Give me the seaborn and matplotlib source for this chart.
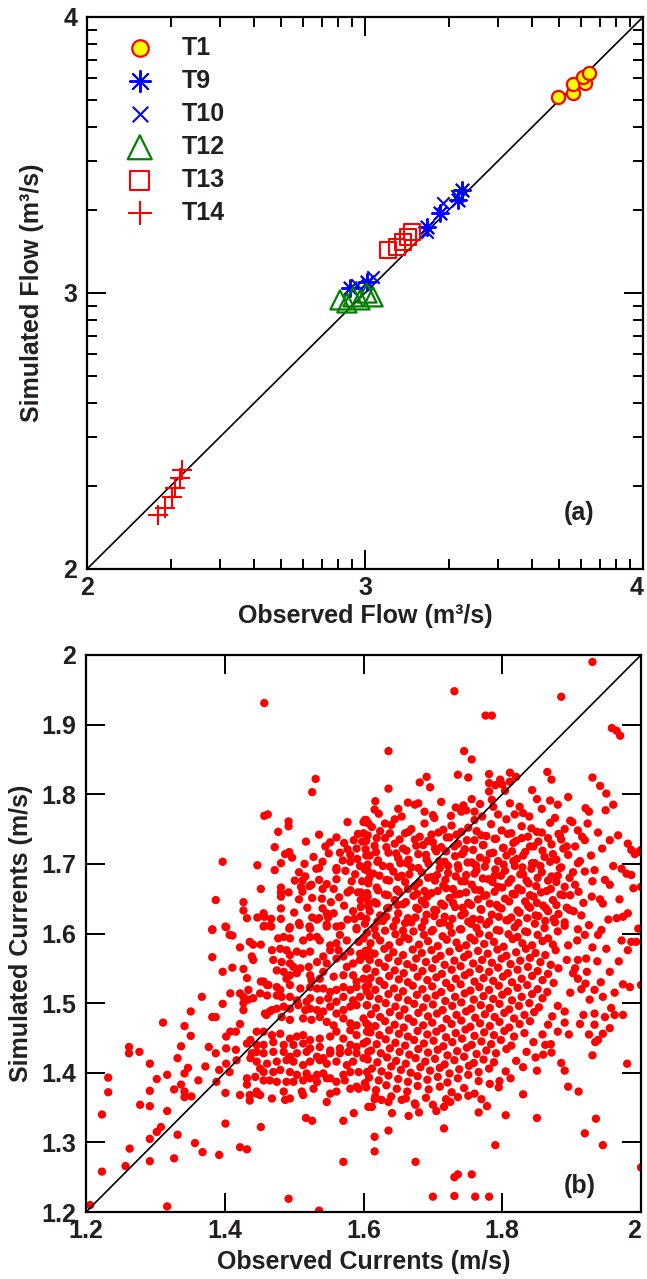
import matplotlib
matplotlib.use("Agg")
import matplotlib.pyplot as plt
import seaborn as sns
import numpy as np
import pandas as pd

# ---------------- Panel (a): flows (axis units = labelled log exponents) -------------
t1_obs = [3.694, 3.748, 3.748, 3.791, 3.784, 3.806]
t1_sim = [3.710, 3.725, 3.757, 3.761, 3.783, 3.797]
t9_obs = [3.349, 3.335, 3.270, 3.223, 3.007, 2.946]
t9_sim = [3.373, 3.337, 3.290, 3.239, 3.040, 3.018]
t10_obs = [3.281, 3.223, 3.029, 2.971, 3.330]
t10_sim = [3.326, 3.221, 3.058, 3.029, 3.350]
t12_obs = [2.910, 2.957, 3.007, 3.029, 2.935, 2.982]
t12_sim = [2.975, 2.986, 3.000, 2.986, 2.964, 2.975]
t13_obs = [3.083, 3.115, 3.137, 3.155, 3.169]
t13_sim = [3.156, 3.167, 3.185, 3.203, 3.221]
t14_obs = [2.255, 2.281, 2.306, 2.317, 2.335, 2.342]
t14_sim = [2.196, 2.221, 2.261, 2.293, 2.330, 2.359]

a_ticks = [2, 3, 4]
a_ticklabels = ["2", "3", "4"]

# ---------------- Panel (b): currents, (observed, simulated) in mm/s ----------------
b_lower_left = [
    (1206,1210),(1317,1208),(1492,1219),(1536,1202),(1223,1258),(1257,1266),(1292,1273),(1327,1277),
    (1263,1291),(1357,1299),(1368,1286),(1392,1282),(1422,1293),(1432,1290),(1292,1305),(1302,1315),
    (1308,1322),(1332,1311),(1401,1327),(1452,1322),(1571,1272),(1517,1335),(1526,1331),(1571,1331),
    (1586,1342),(1223,1340),(1278,1354),(1292,1352),(1317,1345),(1232,1393),(1232,1372),(1262,1437),
    (1262,1428),(1277,1430),(1292,1413),(1302,1391),(1292,1374),(1317,1397),(1327,1376),(1332,1421),
    (1311,1472),(1337,1438),(1342,1467),(1351,1453),(1351,1488),(1347,1407),(1342,1399),(1337,1383),
    (1342,1373),(1342,1365),(1352,1366),(1362,1389),(1372,1409),(1377,1437),(1387,1428),(1367,1509),
    (1382,1480),(1387,1480),(1397,1499),(1382,1566),(1382,1605),(1402,1609),(1397,1545),(1392,1404),
    (1388,1387),(1402,1413),(1407,1401),(1401,1371),(1411,1551),(1407,1598),(1411,1597),(1422,1580),
    (1427,1549),(1432,1536),(1427,1509),(1427,1500),(1427,1490),(1408,1514),(1422,1514),(1422,1470),
    (1402,1452),(1408,1459),(1416,1459),(1402,1435),(1416,1433),(1417,1418),(1432,1442),(1432,1392),
    (1432,1383),(1422,1368),(1436,1368),(1436,1360),(1451,1368),(1446,1373),(1468,1363),(1436,1588),
    (1441,1584),(1452,1584),(1439,1567),(1441,1562),(1434,1519),(1434,1505),(1441,1507),(1452,1531),
    (1463,1526),(1460,1483),(1468,1490),
]
b_core_left = [
    (1456,1610),(1465,1611),(1493,1607),(1508,1612),(1523,1607),(1547,1610),(1561,1610),(1590,1606),
    (1477,1593),(1485,1595),(1494,1593),(1513,1590),(1523,1595),(1533,1595),(1537,1590),(1552,1583),
    (1561,1586),(1566,1598),(1576,1590),(1593,1588),(1600,1593),
    (1468,1576),(1480,1578),(1489,1576),(1494,1569),(1504,1574),(1513,1571),(1523,1574),(1542,1567),
    (1552,1576),(1564,1576),(1571,1567),(1581,1574),(1595,1571),(1607,1576),
    (1470,1562),(1482,1559),(1494,1557),(1499,1552),(1509,1550),(1521,1552),(1533,1559),(1547,1557),
    (1561,1564),(1576,1552),(1585,1557),(1595,1562),(1605,1567),
    (1475,1547),(1485,1545),(1489,1535),(1494,1540),(1504,1543),(1523,1540),(1525,1533),(1537,1535),
    (1542,1545),(1557,1538),(1571,1540),(1585,1540),(1590,1531),(1605,1550),(1600,1535),
    (1456,1531),(1461,1526),(1475,1523),(1480,1519),(1494,1526),(1509,1521),(1523,1523),(1533,1521),
    (1542,1521),(1552,1516),(1561,1519),(1571,1523),(1581,1519),(1590,1523),(1607,1526),
    (1451,1514),(1461,1511),(1475,1511),(1482,1509),(1494,1509),(1504,1504),(1518,1502),(1523,1507),
    (1537,1504),(1549,1507),(1561,1502),(1571,1509),(1585,1504),(1595,1509),(1605,1516),
    (1458,1485),(1465,1488),(1475,1492),(1485,1495),(1494,1492),(1506,1497),(1516,1490),(1523,1492),
    (1533,1490),(1542,1488),(1552,1495),(1561,1485),(1571,1490),(1581,1495),(1590,1497),(1605,1497),
    (1482,1480),(1494,1476),(1513,1478),(1525,1476),(1537,1480),(1547,1473),(1557,1468),(1571,1478),
    (1581,1471),(1590,1468),(1600,1478),(1607,1468),
    (1446,1459),(1456,1459),(1468,1454),(1480,1456),(1494,1449),(1504,1452),(1513,1454),(1523,1447),
    (1537,1449),(1552,1452),(1561,1459),(1571,1449),(1581,1461),(1590,1454),(1605,1459),
    (1437,1447),(1446,1440),(1456,1440),(1470,1444),(1485,1440),(1499,1440),(1513,1442),(1523,1435),
    (1537,1437),(1552,1432),(1566,1435),(1581,1440),(1590,1437),(1600,1442),
    (1439,1428),(1446,1430),(1456,1428),(1470,1430),(1485,1430),(1494,1423),(1504,1428),(1518,1430),
    (1533,1423),(1542,1421),(1552,1428),(1566,1428),(1578,1430),(1590,1428),(1607,1430),
    (1437,1421),(1446,1416),(1461,1413),(1475,1416),(1489,1418),(1499,1416),(1513,1411),(1523,1416),
    (1537,1418),(1547,1413),(1561,1416),(1576,1411),(1585,1416),(1600,1421),
    (1451,1406),(1456,1401),(1470,1401),(1480,1404),(1494,1401),(1504,1397),(1518,1399),(1533,1397),
    (1542,1399),(1552,1392),(1571,1397),(1581,1401),(1593,1401),(1605,1401),
    (1444,1394),(1456,1389),(1465,1389),(1475,1387),(1489,1387),(1499,1387),(1513,1389),(1523,1392),
    (1533,1387),(1547,1392),(1561,1387),(1573,1389),(1590,1380),(1602,1385),
    (1446,1370),(1485,1373),(1487,1361),(1494,1363),(1511,1373),(1513,1368),(1528,1377),(1547,1358),
    (1552,1370),(1561,1373),(1581,1377),(1593,1377),(1607,1351),
]
b_upper_left = [
    (1457,1931),(1531,1822),(1526,1803),(1457,1769),(1462,1771),(1492,1761),(1492,1754),(1477,1746),
    (1577,1760),(1536,1742),(1517,1732),(1472,1724),(1552,1731),(1561,1738),(1572,1730),(1487,1714),
    (1493,1717),(1497,1709),(1397,1703),(1447,1698),(1481,1701),(1472,1691),(1507,1688),(1532,1693),
    (1536,1694),(1541,1703),(1561,1694),(1561,1691),(1566,1716),(1577,1721),(1581,1713),(1581,1703),
    (1591,1707),(1586,1734),(1600,1760),(1604,1763),(1600,1744),(1592,1743),(1598,1732),(1501,1676),
    (1512,1676),(1516,1682),(1525,1670),(1536,1677),(1547,1671),(1561,1678),(1452,1664),(1481,1666),
    (1481,1659),(1481,1653),(1492,1659),(1507,1649),(1510,1667),(1512,1660),(1522,1668),(1526,1651),
    (1541,1664),(1557,1664),(1577,1659),(1581,1662),(1592,1659),(1596,1659),(1596,1648),(1606,1653),
    (1607,1643),(1596,1638),(1387,1648),(1427,1645),(1427,1633),(1432,1622),(1447,1623),(1456,1629),
    (1457,1624),(1467,1621),(1481,1636),(1481,1621),(1494,1609),(1507,1615),(1522,1610),(1526,1623),
    (1533,1620),(1536,1622),(1541,1636),(1547,1629),(1549,1623),(1557,1629),(1547,1613),(1577,1620),
    (1587,1621),(1596,1625),(1590,1608),(1382,1606),(1401,1610),(1457,1611),(1467,1610),
    (1565,1652),(1572,1640),(1585,1632),(1553,1645),(1540,1650),(1519,1637),(1500,1630),(1568,1611),
    (1588,1685),(1574,1690),(1595,1697),(1583,1675),(1570,1705),(1550,1715),(1528,1710),(1515,1700),
    (1545,1725),(1590,1722),(1604,1712),(1598,1675),(1606,1690),
]
b_upper_right = [
    (1930,1990),(1731,1948),(1885,1940),(1776,1913),(1785,1913),(1958,1895),(1965,1891),(1970,1884),
    (1636,1862),(1745,1862),(1756,1850),(1736,1828),(1751,1824),(1681,1817),(1691,1825),(1696,1810),
    (1636,1808),(1781,1829),(1781,1816),(1781,1804),(1790,1813),(1797,1821),(1800,1814),(1804,1805),
    (1811,1831),(1820,1825),(1811,1818),(1865,1832),(1871,1821),(1930,1824),(1941,1812),(1950,1801),
    (1895,1796),(1960,1785),(1949,1777),(1920,1780),(1925,1775),(1850,1793),(1869,1791),(1811,1787),
    (1825,1782),(1818,1771),(1830,1773),(1794,1771),(1787,1782),(1785,1792),(1756,1793),(1744,1784),
    (1741,1775),(1748,1777),(1760,1775),(1760,1763),(1726,1769),(1664,1788),(1674,1785),(1679,1787),
    (1616,1778),(1645,1764),(1602,1763),(1607,1758),(1631,1758),
    (1955,1734),(1967,1741),(1981,1729),(1986,1720),(1996,1717),(2000,1720),(1991,1714),(1960,1697),
    (1972,1693),(1979,1686),(1986,1684),(1989,1665),(2000,1667),(1969,1649),(1965,1622),(1974,1624),
    (1981,1629),(1941,1649),(1945,1643),(1948,1677),(1955,1670),(1909,1701),(1919,1689),(1933,1691),
    (1929,1653),(1909,1748),(1938,1745),(1915,1739),(1919,1734),(1912,1704),(1905,1670),(1917,1644),
    (1914,1626),(1909,1606),
]
b_core_edges = [
    (1622,1772),(1655,1768),(1688,1775),(1702,1766),(1733,1781),(1771,1768),(1806,1764),(1839,1768),
    (1857,1779),(1876,1766),(1898,1762),(1650,1779),(1712,1789),(1768,1786),(1843,1806),(1880,1785),
    (1700,1770),(1617,1790),
    (1893,1725),(1902,1688),(1898,1655),(1903,1632),(1895,1583),(1893,1562),(1898,1515),(1890,1488),
    (1896,1455),(1908,1590),(1914,1520),(1926,1505),(1922,1545),(1937,1560),(1930,1580),(1912,1470),
    (1925,1455),(1942,1530),(1955,1545),(1962,1515),(1968,1560),(1953,1620),(1925,1612),(1938,1598),
    (1905,1725),(1928,1712),(1944,1722),(1901,1760),(1923,1758),(1930,1675),(1910,1660),
    (1617,1366),(1655,1361),(1690,1364),(1725,1358),(1760,1370),(1782,1384),(1812,1392),(1830,1408),
    (1848,1422),(1862,1440),(1778,1352),(1705,1345),(1641,1342),
]
b_core_upper = [
    (1612,1753),(1624,1747),(1640,1756),(1660,1744),(1669,1750),(1688,1758),(1698,1742),(1715,1749),
    (1727,1755),(1741,1746),(1751,1752),(1770,1741),(1784,1757),(1799,1748),(1813,1744),(1828,1754),
    (1842,1751),(1857,1745),(1869,1759),(1881,1743),(1890,1750),
    (1606,1741),(1619,1737),(1638,1744),(1652,1735),(1665,1746),(1681,1739),(1693,1733),(1708,1745),
    (1720,1738),(1734,1742),(1749,1734),(1763,1747),(1777,1740),(1791,1736),(1808,1743),(1820,1733),
    (1837,1739),(1850,1746),(1866,1737),(1883,1741),
    (1604,1733),(1616,1726),(1631,1737),(1645,1729),(1657,1722),(1674,1735),(1686,1727),(1700,1731),
    (1712,1724),(1724,1738),(1736,1729),(1746,1721),(1760,1734),(1772,1727),(1789,1736),(1801,1723),
    (1816,1730),(1828,1737),(1840,1725),(1852,1732),(1871,1728),(1885,1735),
    (1603,1721),(1618,1717),(1633,1724),(1647,1715),(1662,1719),(1676,1726),(1690,1713),(1703,1722),
    (1719,1718),(1731,1725),(1742,1714),(1758,1720),(1773,1727),(1787,1716),(1802,1723),(1814,1718),
    (1830,1712),(1845,1725),(1858,1719),(1873,1714),(1888,1722),
    (1609,1712),(1621,1705),(1636,1716),(1650,1708),(1662,1701),(1679,1714),(1691,1706),(1705,1718),
    (1717,1703),(1732,1711),(1744,1716),(1756,1702),(1768,1709),(1782,1715),(1794,1704),(1806,1712),
    (1821,1707),(1833,1717),(1847,1701),(1861,1710),(1878,1706),(1895,1713),
    (1606,1699),(1620,1703),(1638,1696),(1653,1701),(1665,1706),(1679,1694),(1694,1700),(1709,1704),
    (1722,1697),(1737,1693),(1750,1702),(1762,1698),(1777,1705),(1790,1692),(1802,1699),(1816,1704),
    (1829,1695),(1843,1701),(1855,1697),(1869,1703),(1883,1694),
    (1602,1692),(1614,1686),(1628,1697),(1643,1689),(1655,1683),(1669,1695),(1684,1688),(1698,1681),
    (1710,1694),(1722,1687),(1736,1698),(1748,1684),(1763,1691),(1775,1696),(1789,1683),(1804,1690),
    (1818,1697),(1830,1685),(1842,1693),(1857,1688),(1871,1682),(1885,1695),
    (1608,1679),(1623,1683),(1637,1676),(1650,1681),(1666,1685),(1680,1673),(1693,1680),(1706,1684),
    (1718,1677),(1733,1682),(1746,1675),(1760,1686),(1772,1679),(1786,1674),(1798,1683),(1813,1678),
    (1826,1685),(1838,1672),(1851,1680),(1866,1676),(1880,1683),(1897,1680),
    (1607,1672),(1619,1666),(1633,1677),(1648,1663),(1660,1674),(1674,1668),(1688,1661),(1703,1676),
    (1715,1669),(1729,1664),(1741,1675),(1756,1670),(1768,1662),(1780,1678),(1794,1667),(1809,1673),
    (1823,1665),(1835,1676),(1849,1668),(1864,1661),(1878,1674),(1890,1667),
    (1605,1658),(1621,1662),(1635,1655),(1651,1660),(1664,1664),(1677,1657),(1692,1653),(1707,1661),
    (1719,1665),(1733,1656),(1748,1659),(1761,1663),(1774,1654),(1789,1660),(1800,1666),(1815,1657),
    (1828,1662),(1840,1655),(1856,1659),(1870,1664),(1884,1656),
    (1604,1652),(1616,1645),(1631,1656),(1645,1648),(1657,1642),(1672,1654),(1684,1647),(1698,1658),
    (1712,1643),(1724,1651),(1739,1657),(1751,1644),(1765,1649),(1777,1655),(1792,1641),(1804,1650),
    (1818,1656),(1833,1646),(1845,1653),(1859,1640),(1873,1648),(1888,1655),
    (1607,1639),(1619,1643),(1634,1636),(1649,1641),(1661,1645),(1676,1637),(1689,1642),(1702,1634),
    (1716,1640),(1729,1644),(1743,1637),(1755,1641),(1769,1635),(1782,1643),(1795,1638),(1810,1646),
    (1822,1633),(1837,1640),(1850,1644),(1863,1636),(1878,1641),(1893,1637),
    (1609,1632),(1624,1626),(1636,1637),(1650,1629),(1664,1622),(1679,1635),(1691,1627),(1705,1633),
    (1717,1624),(1732,1638),(1746,1629),(1758,1621),(1770,1634),(1785,1627),(1799,1636),(1813,1623),
    (1825,1630),(1840,1637),(1852,1625),(1866,1632),(1881,1628),(1897,1634),
    (1604,1621),(1620,1617),(1633,1624),(1647,1619),(1660,1615),(1675,1623),(1688,1618),(1702,1625),
    (1715,1616),(1728,1621),(1741,1626),(1755,1614),(1768,1620),(1781,1617),(1795,1624),(1808,1619),
    (1823,1615),(1836,1622),(1848,1626),(1862,1618),(1874,1621),(1890,1616),
    (1602,1614),(1616,1607),(1628,1618),(1643,1610),(1657,1604),(1669,1616),(1684,1609),(1698,1603),
    (1710,1615),(1724,1611),(1739,1606),(1751,1617),(1763,1608),(1777,1613),(1792,1605),(1806,1619),
    (1818,1609),(1833,1603),(1847,1614),(1861,1608),(1876,1616),(1890,1611),
]
b_lower_right = [
    (1700,1222),(1731,1223),(1761,1222),(1781,1222),(1731,1250),(1736,1254),(1756,1254),(1675,1272),
    (1616,1287),(1616,1308),(1636,1317),(1716,1320),(1790,1296),(1919,1313),(1945,1296),(2000,1264),
    (1850,1335),(1935,1334),(1805,1339),(1766,1343),(1665,1338),(1680,1343),(1675,1354),(1612,1351),
    (1616,1362),(1626,1361),(1636,1358),(1640,1366),(1661,1363),(1674,1356),(1700,1354),(1716,1351),
    (1719,1362),(1736,1365),(1751,1367),(1770,1362),(1795,1379),(1796,1388),(1830,1369),(1895,1380),
    (1910,1373),(1850,1403),(1890,1403),(1885,1414),(1859,1426),(1871,1429),(1930,1425),(1980,1413),
    (1984,1523),(2000,1526),(1974,1527),(1934,1444),(1938,1447),(1945,1456),(1955,1464),(1933,1469),
    (1962,1483),(1974,1483),(1948,1480),(1957,1493),(1945,1509),(1933,1519),(1920,1528),(1933,1485),
    (1917,1483),(1950,1578),(1972,1590),(1981,1576),(1986,1588),(1993,1588),(1996,1607),(1943,1605),
    (1919,1598),(1921,1564),(1909,1562),(1905,1550),(1909,1535),(1902,1543),
]
b_core_lower = [
    (1605,1601),(1618,1597),(1631,1604),(1646,1599),(1659,1595),(1672,1603),(1687,1598),(1700,1605),
    (1714,1596),(1727,1601),(1741,1606),(1754,1594),(1767,1600),(1781,1597),(1796,1604),(1809,1599),
    (1822,1595),(1836,1602),(1851,1598),(1866,1593),(1880,1603),
    (1610,1586),(1624,1590),(1637,1583),(1652,1588),(1665,1592),(1680,1584),(1693,1589),(1707,1582),
    (1720,1591),(1734,1587),(1748,1583),(1760,1590),(1774,1585),(1788,1588),(1802,1581),(1815,1592),
    (1829,1586),(1843,1583),(1858,1589),(1873,1584),
    (1603,1575),(1616,1571),(1630,1578),(1643,1573),(1657,1569),(1671,1577),(1684,1572),(1698,1576),
    (1711,1568),(1724,1574),(1738,1579),(1751,1570),(1765,1575),(1779,1571),(1793,1577),(1806,1568),
    (1820,1573),(1834,1578),(1848,1572),(1862,1569),(1877,1576),
    (1609,1562),(1622,1558),(1636,1565),(1650,1560),(1663,1556),(1676,1564),(1690,1559),(1704,1563),
    (1717,1555),(1731,1561),(1745,1566),(1758,1557),(1771,1562),(1785,1558),(1799,1564),(1812,1556),
    (1826,1561),(1840,1565),(1855,1559),(1870,1555),
    (1604,1549),(1617,1545),(1631,1552),(1645,1547),(1658,1543),(1672,1551),(1685,1546),(1699,1550),
    (1713,1542),(1727,1548),(1740,1553),(1753,1544),(1767,1549),(1781,1545),(1794,1551),(1808,1543),
    (1822,1548),(1837,1552),(1851,1546),(1866,1542),(1881,1550),
    (1610,1536),(1623,1532),(1637,1539),(1651,1534),(1664,1530),(1678,1538),(1692,1533),(1705,1537),
    (1719,1529),(1733,1535),(1746,1540),(1760,1531),(1773,1536),(1787,1532),(1801,1538),(1814,1530),
    (1828,1535),(1843,1539),(1858,1533),(1874,1529),
    (1603,1523),(1617,1519),(1630,1526),(1644,1521),(1657,1517),(1671,1525),(1685,1520),(1699,1524),
    (1712,1516),(1726,1522),(1740,1527),(1754,1518),(1767,1523),(1781,1519),(1795,1525),(1808,1517),
    (1822,1522),(1836,1526),(1851,1520),(1865,1516),
    (1609,1510),(1622,1506),(1636,1513),(1650,1508),(1664,1504),(1677,1512),(1691,1507),(1704,1511),
    (1718,1503),(1732,1509),(1746,1514),(1759,1505),(1773,1510),(1787,1506),(1800,1512),(1814,1504),
    (1828,1509),(1843,1513),(1858,1507),
    (1605,1497),(1618,1493),(1632,1500),(1646,1495),(1659,1491),(1673,1499),(1686,1494),(1700,1498),
    (1714,1490),(1728,1496),(1741,1501),(1755,1492),(1769,1497),(1782,1493),(1796,1499),(1810,1491),
    (1824,1496),(1839,1500),(1853,1494),(1880,1496),
    (1611,1484),(1624,1480),(1638,1487),(1652,1482),(1665,1478),(1679,1486),(1693,1481),(1706,1485),
    (1720,1477),(1734,1483),(1748,1488),(1761,1479),(1775,1484),(1789,1480),(1803,1486),(1817,1478),
    (1832,1483),(1846,1487),(1872,1481),
    (1604,1471),(1617,1467),(1631,1474),(1645,1469),(1658,1465),(1672,1473),(1686,1468),(1699,1472),
    (1713,1464),(1727,1470),(1741,1475),(1754,1466),(1768,1471),(1782,1467),(1796,1473),(1810,1465),
    (1825,1470),(1840,1474),(1866,1469),(1890,1472),
    (1610,1458),(1623,1454),(1637,1461),(1651,1456),(1664,1452),(1678,1460),(1692,1455),(1705,1459),
    (1719,1451),(1733,1457),(1747,1462),(1760,1453),(1774,1458),(1788,1454),(1803,1460),(1817,1452),
    (1832,1457),(1858,1455),(1880,1459),
    (1605,1445),(1619,1441),(1632,1448),(1646,1443),(1660,1439),(1673,1447),(1687,1442),(1701,1446),
    (1715,1438),(1728,1444),(1742,1449),(1756,1440),(1770,1445),(1784,1441),(1798,1447),(1813,1439),
    (1845,1444),(1870,1441),
    (1611,1432),(1625,1428),(1638,1435),(1652,1430),(1666,1426),(1679,1434),(1693,1429),(1707,1433),
    (1721,1425),(1735,1431),(1749,1436),(1763,1427),(1777,1432),(1791,1428),(1806,1434),(1835,1430),
    (1606,1419),(1620,1415),(1634,1422),(1647,1417),(1661,1413),(1675,1421),(1689,1416),(1703,1420),
    (1717,1412),(1731,1418),(1745,1423),(1759,1414),(1773,1419),(1788,1415),(1820,1417),
    (1612,1406),(1626,1402),(1640,1409),(1654,1404),(1668,1400),(1682,1408),(1696,1403),(1710,1407),
    (1724,1399),(1738,1405),(1752,1410),(1766,1401),(1781,1406),(1805,1402),
    (1608,1393),(1622,1389),(1636,1396),(1650,1391),(1664,1387),(1678,1395),(1692,1390),(1707,1394),
    (1721,1386),(1736,1392),(1751,1397),(1766,1388),
    (1604,1379),(1618,1375),(1633,1382),(1648,1377),(1663,1373),(1678,1381),(1694,1376),(1710,1380),
    (1727,1372),(1745,1378),
]

b_xticks = [1.2, 1.4, 1.6, 1.8, 2.0]
b_xticklabels = ["1.2", "1.4", "1.6", "1.8", "2"]
b_yticks = [1.2, 1.3, 1.4, 1.5, 1.6, 1.7, 1.8, 1.9, 2.0]
b_yticklabels = ["1.2", "1.3", "1.4", "1.5", "1.6", "1.7", "1.8", "1.9", "2"]

# ---------------------------------------------------------------------------------
sns.set_style("ticks")
plt.rcParams["font.family"] = ["Liberation Sans", "DejaVu Sans"]
TXT = "#231f20"
FS = 18

fig = plt.figure(figsize=(6.47, 12.79), dpi=100)
W, H = 647.0, 1279.0
ax1 = fig.add_axes([87 / W, (H - 569) / H, 556 / W, 552 / H])
ax2 = fig.add_axes([86 / W, (H - 1212) / H, 555 / W, 557 / H])


def style_axes(ax, major_len, minor_len):
    for sp in ax.spines.values():
        sp.set_linewidth(1.6)
        sp.set_color("black")
        sp.set_visible(True)
    ax.tick_params(which="major", direction="in", length=major_len, width=1.4,
                   top=True, right=True, labelsize=FS, labelcolor=TXT, color="black")
    ax.tick_params(which="minor", direction="in", length=minor_len, width=1.4,
                   top=True, right=True, color="black")
    ax.tick_params(axis="x", which="major", pad=5)
    ax.tick_params(axis="y", which="major", pad=7)
    for lab in ax.get_xticklabels() + ax.get_yticklabels():
        lab.set_fontweight("bold")


# ------------------------------ Panel (a) ------------------------------------------
ax = ax1
ax.plot([2, 4], [2, 4], color="black", lw=1.2, zorder=1)

series = [
    ("T1", t1_obs, t1_sim, dict(marker="o", s=90, facecolors="yellow", edgecolors="red", linewidths=1.6)),
    ("T9", t9_obs, t9_sim, dict(marker=(8, 2, 0), s=150, color="blue", linewidths=1.4)),
    ("T10", t10_obs, t10_sim, dict(marker="x", s=80, color="blue", linewidths=1.5)),
    ("T12", t12_obs, t12_sim, dict(marker="^", s=190, facecolors="none", edgecolors="green", linewidths=1.6)),
    ("T13", t13_obs, t13_sim, dict(marker="s", s=120, facecolors="none", edgecolors="red", linewidths=1.5)),
    ("T14", t14_obs, t14_sim, dict(marker="+", s=190, color="red", linewidths=1.5)),
]
for name, xo, ys, kw in series:
    sns.scatterplot(x=xo, y=ys, ax=ax, label=name, zorder=3, **kw)

ax.set_xlim(2, 4)
ax.set_ylim(2, 4)
ax.set_xticks(a_ticks)
ax.set_xticklabels(a_ticklabels)
ax.set_yticks(a_ticks)
ax.set_yticklabels(a_ticklabels)
minor = [d + np.log10(k) for d in (2, 3) for k in range(2, 10)]
ax.set_xticks(minor, minor=True)
ax.set_yticks(minor, minor=True)
style_axes(ax, 14, 7)
ax.get_xticklabels()[-1].set_horizontalalignment("right")
ax.set_xlabel("Observed Flow (m³/s)", fontsize=FS, fontweight="bold", color=TXT, labelpad=3)
ax.set_ylabel("Simulated Flow (m³/s)", fontsize=FS, fontweight="bold", color=TXT, labelpad=14)
leg = ax.legend(loc="upper left", frameon=False, markerscale=1.25,
                prop=dict(family=["Liberation Sans"], weight="bold", size=FS),
                labelspacing=0.36, handletextpad=0.66, borderaxespad=0.0,
                bbox_to_anchor=(0.032, 0.984))
for t in leg.get_texts():
    t.set_color(TXT)
ax.text(0.858, 0.088, "(a)", transform=ax.transAxes, fontsize=FS, fontweight="bold", color=TXT)

# ------------------------------ Panel (b) ------------------------------------------
ax = ax2
pts = (b_lower_left + b_core_left + b_upper_left + b_upper_right + b_core_edges
       + b_core_upper + b_lower_right + b_core_lower)
df = pd.DataFrame(pts, columns=["obs", "sim"]) / 1000.0
ax.plot([1.2, 2.0], [1.2, 2.0], color="black", lw=1.2, zorder=3)
sns.scatterplot(data=df, x="obs", y="sim", ax=ax, color="red", s=36,
                edgecolor="none", linewidth=0, zorder=2)
ax.set_xlim(1.2, 2.0)
ax.set_ylim(1.2, 2.0)
ax.set_xticks(b_xticks)
ax.set_xticklabels(b_xticklabels)
ax.set_yticks(b_yticks)
ax.set_yticklabels(b_yticklabels)
style_axes(ax, 14, 7)
ax.get_xticklabels()[-1].set_horizontalalignment("right")
ax.set_xlabel("Observed Currents (m/s)", fontsize=FS, fontweight="bold", color=TXT, labelpad=5)
ax.set_ylabel("Simulated Currents (m/s)", fontsize=FS, fontweight="bold", color=TXT, labelpad=6)
ax.text(0.86, 0.035, "(b)", transform=ax.transAxes, fontsize=FS, fontweight="bold", color=TXT)

fig.savefig("out.png", dpi=100)
